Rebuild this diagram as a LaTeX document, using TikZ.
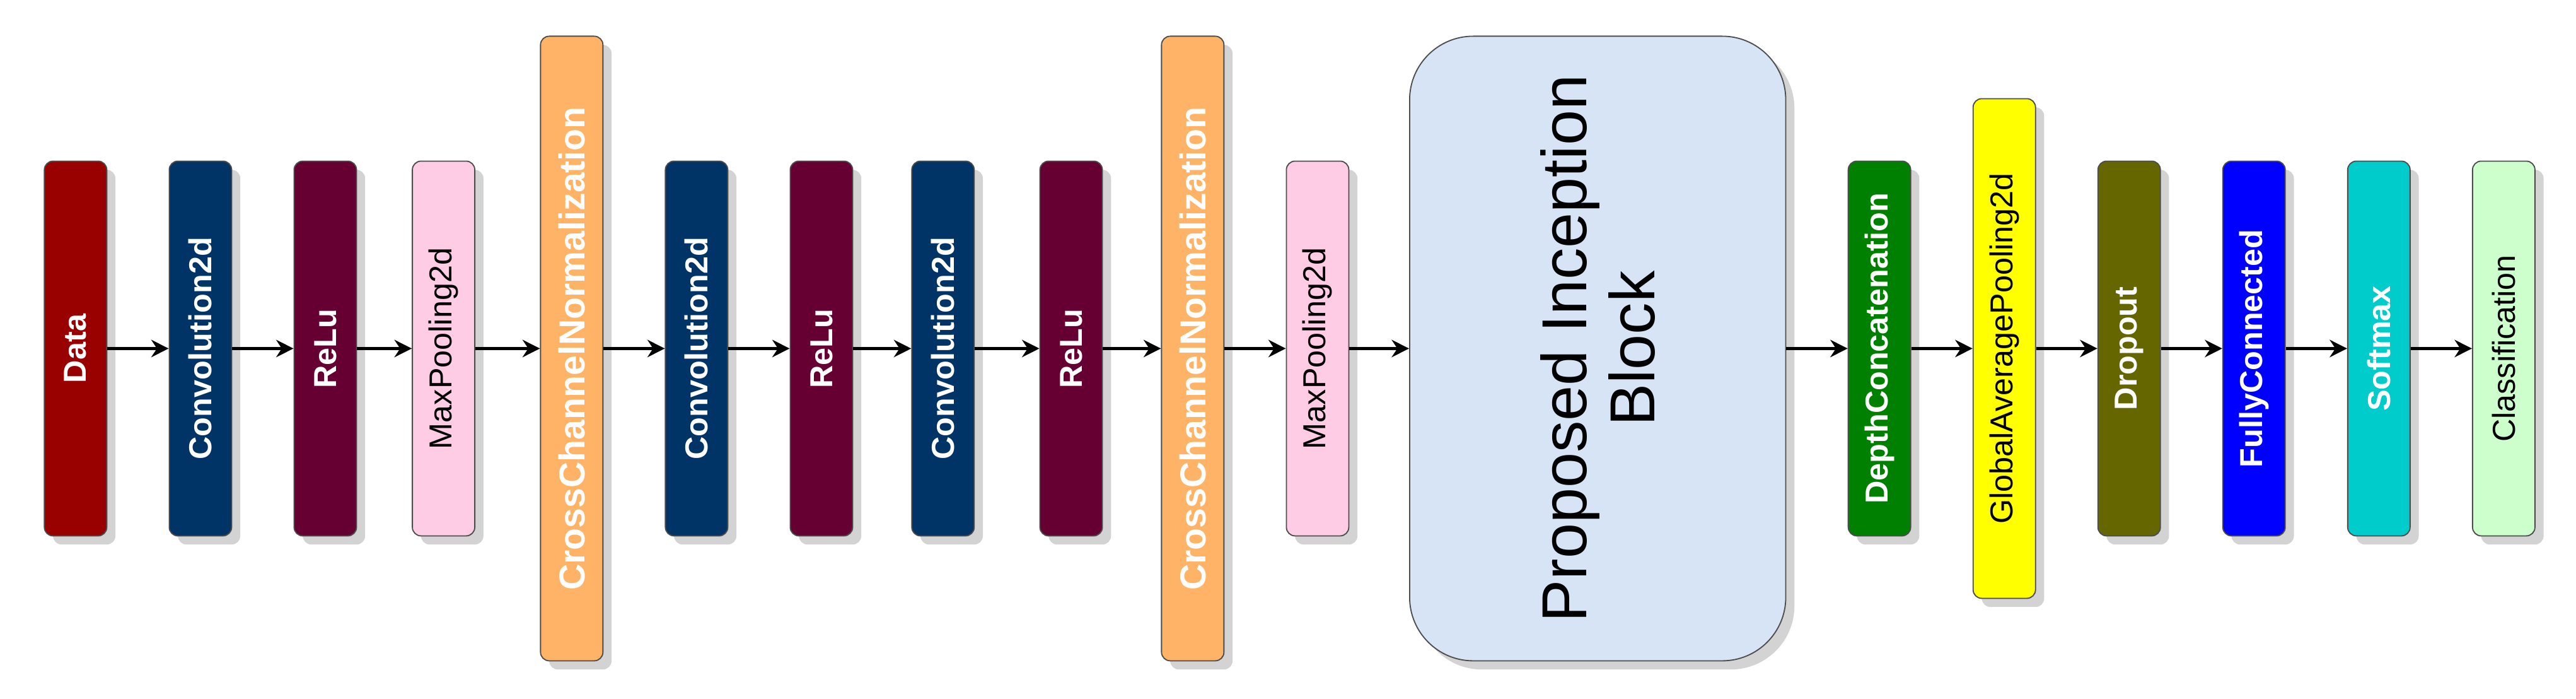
\documentclass[tikz,border=0pt]{standalone}
\usepackage{fontspec}
\setmainfont{Liberation Sans}
\usetikzlibrary{shadows,arrows.meta}
\definecolor{cdata}{HTML}{990000}
\definecolor{cconv}{HTML}{003366}
\definecolor{crelu}{HTML}{660033}
\definecolor{cpool}{HTML}{FFCCE6}
\definecolor{cccn}{HTML}{FFB366}
\definecolor{cinc}{HTML}{D6E4F5}
\definecolor{cdepth}{HTML}{008000}
\definecolor{cgap}{HTML}{FFFF00}
\definecolor{cdrop}{HTML}{666600}
\definecolor{cfc}{HTML}{0000FF}
\definecolor{csoft}{HTML}{00CCCC}
\definecolor{ccls}{HTML}{CCFFCC}
\begin{document}
\begin{tikzpicture}[x=0.02cm,y=-0.02cm,
 blk/.style={draw=black!70,rounded corners=3pt,minimum width=0.76cm,inner sep=0pt,
   drop shadow={shadow xshift=3pt,shadow yshift=-3pt,opacity=0.35,fill=gray},
   font=\fontsize{11}{13}\selectfont},
 wt/.style={text=white,font=\fontsize{11}{13}\selectfont\bfseries},
 wtl/.style={text=white,font=\fontsize{12.5}{14}\selectfont\bfseries},
 bt/.style={text=black},
 s/.style={minimum height=4.56cm},
 t/.style={minimum height=7.6cm},
 m/.style={minimum height=6.08cm},
 arr/.style={-{Stealth[length=6pt,width=6pt]},line width=1pt}]
\useasboundingbox (0,0) rectangle (1568,425);
\def\B#1#2#3#4#5#6{\node[blk,#3,#4,fill=#5,anchor=center] (#1) at (#2,212) {\rotatebox{90}{#6}};}
\B{a}{46}{s}{wt}{cdata}{Data}
\B{b}{122}{s}{wt}{cconv}{Convolution2d}
\B{c}{198}{s}{wt}{crelu}{ReLu}
\B{d}{270}{s}{bt}{cpool}{MaxPooling2d}
\B{e}{348}{t}{wtl}{cccn}{CrossChannelNormalization}
\B{f}{424}{s}{wt}{cconv}{Convolution2d}
\B{g}{500}{s}{wt}{crelu}{ReLu}
\B{h}{574}{s}{wt}{cconv}{Convolution2d}
\B{i}{652}{s}{wt}{crelu}{ReLu}
\B{j}{726}{t}{wtl}{cccn}{CrossChannelNormalization}
\B{k}{802}{s}{bt}{cpool}{MaxPooling2d}
\node[blk,fill=cinc,minimum width=4.58cm,minimum height=7.6cm,rounded corners=22pt,
  font=\fontsize{22}{26}\selectfont,align=center] (l) at (972.5,212)
  {\rotatebox{90}{\shortstack{Proposed Inception\\Block}}};
\B{m}{1144}{s}{wt}{cdepth}{DepthConcatenation}
\B{n}{1220}{m}{bt}{cgap}{GlobalAveragePooling2d}
\B{o}{1296}{s}{wt}{cdrop}{Dropout}
\B{p}{1372}{s}{wt}{cfc}{FullyConnected}
\B{q}{1448}{s}{wt}{csoft}{Softmax}
\B{r}{1524}{s}{bt}{ccls}{Classification}
\foreach \u/\v in {a/b,b/c,c/d,d/e,e/f,f/g,g/h,h/i,i/j,j/k,k/l,l/m,m/n,n/o,o/p,p/q,q/r}
  \draw[arr] (\u.east) -- (\v.west);
\end{tikzpicture}
\end{document}
